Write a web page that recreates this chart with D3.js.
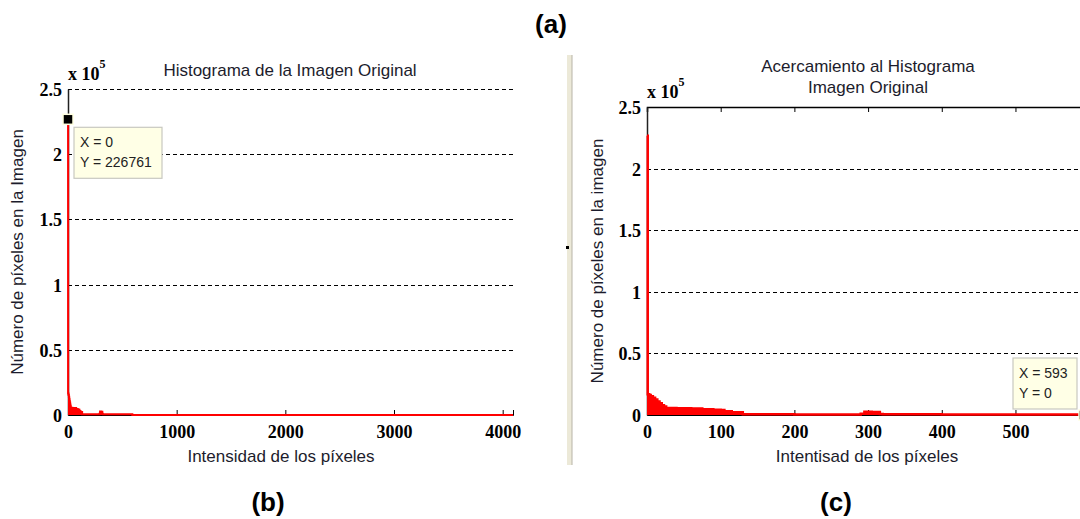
<!DOCTYPE html>
<html><head><meta charset="utf-8">
<script src="https://cdn.jsdelivr.net/npm/d3@7"></script>
<style>
html,body{margin:0;padding:0;background:#fff;}
svg{display:block;}
.tick text{font-family:"Liberation Serif","Times New Roman",serif;font-weight:bold;font-size:18px;fill:#000;}
.lbl{font-family:"Liberation Sans",Arial,sans-serif;font-size:17px;fill:#1c1c2c;}
.tip{font-family:"Liberation Sans",Arial,sans-serif;font-size:14px;fill:#222;}
.panel{font-family:"Liberation Sans",Arial,sans-serif;font-size:26px;font-weight:bold;fill:#000;}
</style></head>
<body>
<script>
// Histogram (step bins): intensity level where each run starts, and pixel count
const intensity = [0, 1, 3, 5, 8, 11, 14, 17, 20, 23, 26, 40, 60, 75, 90, 100, 105, 115, 130, 200, 290, 295, 305, 316, 320, 400, 500, 590, 593, 4095];
const counts    = [226761, 16800, 16200, 15300, 14000, 12500, 11000, 9500, 8000, 6800, 5600, 5400, 5300, 4600, 4300, 4000, 3000, 2300, 600, 500, 1000, 2700, 2500, 900, 600, 500, 500, 300, 0, 0];
const yTickValues = [0, 50000, 100000, 150000, 200000, 250000];
const yTickLabels = ["0", "0.5", "1", "1.5", "2", "2.5"];
const xTicksB = [0, 1000, 2000, 3000, 4000];
const xTicksC = [0, 100, 200, 300, 400, 500];
const tipB = {x: 0, y: 226761};
const tipC = {x: 593, y: 0};

const W = 1080, H = 519;
const svg = d3.select("body").append("svg").attr("width", W).attr("height", H);
const data = intensity.map((v, i) => ({x: v, y: counts[i]}));

function drawPanel(o) {
  const x = d3.scaleLinear().domain(o.xDomain).range([o.left, o.right]);
  const y = d3.scaleLinear().domain([0, 250000]).range([o.bottom, o.top]);
  const g = svg.append("g");

  // dashed grid
  g.selectAll("line.grid").data(o.gridValues).join("line")
    .attr("x1", o.left).attr("x2", Math.min(o.right, W))
    .attr("y1", d => Math.round(y(d)) + 0.5).attr("y2", d => Math.round(y(d)) + 0.5)
    .attr("stroke", "#000").attr("stroke-width", 1).attr("stroke-dasharray", "4,3");

  if (o.box) {
    g.append("g").attr("transform", `translate(0,${o.top})`)
      .call(d3.axisTop(x).tickValues(o.xTicks).tickSize(-5).tickFormat(""))
      .call(s => s.select(".domain").attr("stroke", "#000").attr("stroke-width", 1.5));
  }

  // y axis
  g.append("g").attr("transform", `translate(${o.left},0)`)
    .call(d3.axisLeft(y).tickValues(yTickValues).tickSize(0).tickPadding(6)
      .tickFormat((d, i) => yTickLabels[i]))
    .call(s => s.select(".domain").attr("stroke", "#222").attr("stroke-width", 1.5))
    .call(s => s.selectAll(".tick text").attr("dy", "0.36em"));

  // x axis
  g.append("g").attr("transform", `translate(0,${o.bottom})`)
    .call(d3.axisBottom(x).tickValues(o.xTicks).tickSize(-5).tickPadding(10).tickFormat(d3.format("d")))
    .call(s => s.select(".domain").attr("stroke", "#000"))
    .call(s => s.selectAll(".tick line").attr("stroke", "#000"));

  // exponent
  const ex = g.append("text").attr("x", o.left).attr("y", o.top - 9)
    .attr("font-family", '"Liberation Serif","Times New Roman",serif')
    .attr("font-weight", "bold").attr("font-size", 18);
  ex.append("tspan").text("x 10");
  ex.append("tspan").attr("font-size", 12).attr("dy", -12).text("5");

  // histogram
  const cd = data.filter(d => d.x <= o.xDomain[1]);
  g.append("path").datum(cd)
    .attr("d", d3.area().curve(d3.curveStepAfter).x(d => x(d.x)).y0(y(0)).y1(d => y(d.y)))
    .attr("fill", "#ff0000");
  g.append("path").datum(cd)
    .attr("d", d3.line().curve(d3.curveStepAfter).x(d => x(d.x)).y(d => y(d.y)))
    .attr("fill", "none").attr("stroke", "#ff0000").attr("stroke-width", o.lw);

  // titles
  o.title.forEach((t, i) => g.append("text").attr("class", "lbl").attr("text-anchor", "middle")
    .attr("x", o.titleX).attr("y", o.titleY + i * 21).text(t));
  g.append("text").attr("class", "lbl").attr("text-anchor", "middle")
    .attr("x", o.xlabX).attr("y", o.bottom + 47).text(o.xlabel);
  g.append("text").attr("class", "lbl").attr("text-anchor", "middle")
    .attr("transform", `translate(${o.ylabX},${(o.top + o.bottom) / 2}) rotate(-90)`).text(o.ylabel);
  g.append("text").attr("class", "panel").attr("text-anchor", "middle")
    .attr("x", o.panelX).attr("y", 511).text(o.panel);

  return {x, y, g};
}

const b = drawPanel({
  left: 68, right: 513, top: 89, bottom: 415, xDomain: [0, 4095], xTicks: xTicksB,
  gridValues: [50000, 100000, 150000, 200000, 250000], box: false, lw: 2,
  title: ["Histograma de la Imagen Original"], titleX: 290, titleY: 76,
  xlabel: "Intensidad de los píxeles", xlabX: 281,
  ylabel: "Número de píxeles en la Imagen", ylabX: 23, panel: "(b)", panelX: 268
});
const c = drawPanel({
  left: 647, right: 1084, top: 107, bottom: 415, xDomain: [0, 593], xTicks: xTicksC,
  gridValues: [50000, 100000, 150000, 200000], box: true, lw: 2.5,
  title: ["Acercamiento al Histograma", "Imagen Original"], titleX: 868, titleY: 72,
  xlabel: "Intentisad de los píxeles", xlabX: 867,
  ylabel: "Número de píxeles en la imagen", ylabX: 603, panel: "(c)", panelX: 836
});

// datatip markers and boxes
function tip(p, px, py, bx, by, bw, bh, lines) {
  p.g.append("rect").attr("x", p.x(px) - 5).attr("y", p.y(py) - 5).attr("width", 10).attr("height", 10)
    .attr("fill", "#000").attr("stroke", "#ffffe0").attr("stroke-width", 1.5);
  p.g.append("rect").attr("x", p.x(px) + bx).attr("y", p.y(py) + by).attr("width", bw).attr("height", bh)
    .attr("fill", "#ffffe6").attr("stroke", "#c8c8c0").attr("stroke-width", 1.2);
  lines.forEach((t, i) => p.g.append("text").attr("class", "tip")
    .attr("x", p.x(px) + bx + 6).attr("y", p.y(py) + by + 20 + i * 20).text(t));
}
tip(b, tipB.x, tipB.y, 6, 8, 88, 51, ["X = " + tipB.x, "Y = " + tipB.y]);
tip(c, tipC.x, tipC.y, -71, -57, 64, 51, ["X = " + tipC.x, "Y = " + tipC.y]);

// "(a)" label
svg.append("text").attr("class", "panel").attr("text-anchor", "middle").attr("x", 551).attr("y", 33).text("(a)");

// window divider
svg.append("rect").attr("x", 567).attr("y", 55).attr("width", 5).attr("height", 410).attr("fill", "#ece9d8");
svg.append("line").attr("x1", 572).attr("x2", 572).attr("y1", 55).attr("y2", 465).attr("stroke", "#b8b4a8");
svg.append("rect").attr("x", 566).attr("y", 246).attr("width", 3).attr("height", 3).attr("fill", "#000");
</script>
</body></html>
